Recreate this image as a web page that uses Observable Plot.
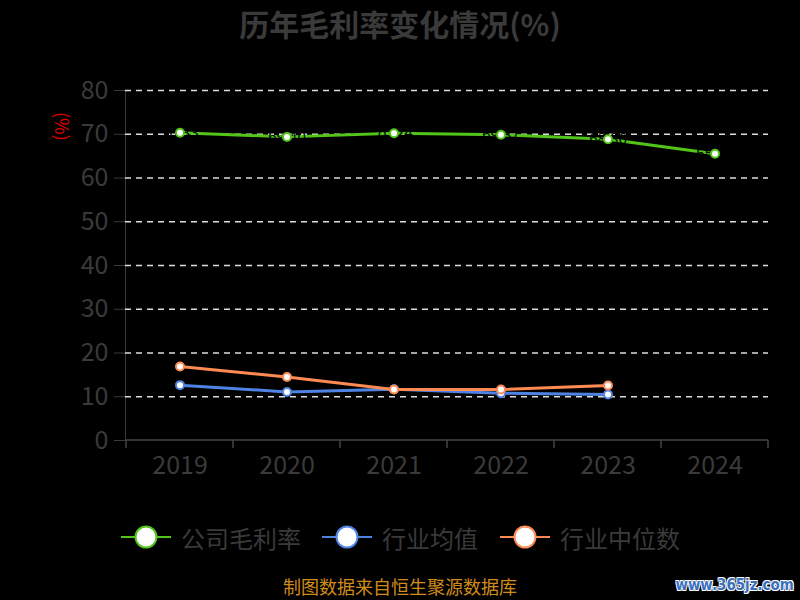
<!DOCTYPE html>
<html><head><meta charset="utf-8">
<script src="https://cdn.jsdelivr.net/npm/d3@7"></script>
<script src="https://cdn.jsdelivr.net/npm/@observablehq/plot@0.6"></script>
<style>
body{margin:0;background:#000;}
#wrap{position:relative;width:800px;height:600px;background:#000;overflow:hidden;font-family:"Noto Sans CJK SC","Noto Sans",sans-serif;}
#chart{position:absolute;left:0;top:0;}
#title{position:absolute;top:0;left:0;width:800px;text-align:center;font-size:30px;font-weight:bold;color:#3a3a3a;line-height:46px;}
#ylab{position:absolute;left:49px;top:112px;width:28px;height:28px;transform:rotate(90deg);transform-origin:center;color:#e00000;font-size:18px;line-height:28px;text-align:center;}
#legend{position:absolute;top:519px;left:0;width:800px;height:36px;}
.item{position:absolute;top:0;display:flex;align-items:center;height:36px;font-size:24px;color:#3a3a3a;}
.item svg{margin-right:10px;}
#source{position:absolute;top:574px;left:0;width:800px;text-align:center;font-size:18px;color:#d08c1a;line-height:24px;}
#wm{position:absolute;right:6px;top:572px;font-family:"DejaVu Sans",sans-serif;font-weight:bold;font-size:16px;color:#3b6fc0;text-shadow:1px 1px 0 #fff,-1px -1px 0 #fff,1px -1px 0 #fff,-1px 1px 0 #fff;line-height:26px;transform:scaleX(0.84);transform-origin:right center;}
</style></head>
<body><div id="wrap">
<div id="chart"></div>
<div id="title">历年毛利率变化情况(%)</div>
<div id="ylab">(%)</div>
<div id="legend"></div>
<div id="source">制图数据来自恒生聚源数据库</div>
<div id="wm">www.365jz.com</div>
</div>
<script>
const years = ["2019","2020","2021","2022","2023","2024"];
const company = [70.33, 69.40, 70.24, 69.87, 68.86, 65.53];
const industryAvg = [12.65, 11.10, 11.70, 10.80, 10.50, null];
const industryMedian = [16.90, 14.50, 11.65, 11.65, 12.57, null];
const yTicks = [0, 10, 20, 30, 40, 50, 60, 70, 80];
const seriesNames = ["公司毛利率", "行业均值", "行业中位数"];
const seriesColors = ["#52c41a", "#4f83e3", "#ff8a52"];

const rows = (vals) => years.map((yr, i) => ({year: yr, v: vals[i]})).filter(d => d.v != null);
const compRows = rows(company);
const avgRows = rows(industryAvg);
const medRows = rows(industryMedian);

function bandTicks(...args) {
  const scales = args.find(a => a && typeof a.x === "function" && typeof a.y === "function");
  const x = scales.x, y = scales.y;
  const bw = x.bandwidth ? x.bandwidth() : 0;
  const y0 = y(0);
  const g = d3.create("svg:g").attr("stroke", "#444").attr("stroke-width", 1.5);
  const xs = years.map(d => x(d)).concat([x(years[years.length - 1]) + bw]);
  for (const px of xs) g.append("line").attr("x1", px).attr("x2", px).attr("y1", y0).attr("y2", y0 + 8);
  g.append("line").attr("x1", xs[0]).attr("x2", xs[xs.length - 1]).attr("y1", y0).attr("y2", y0);
  return g.node();
}

const chart = Plot.plot({
  width: 800, height: 600,
  marginTop: 90, marginBottom: 160, marginLeft: 125, marginRight: 32,
  style: {background: "#000", color: "#3a3a3a", fontSize: "25px", fontFamily: "'Noto Sans CJK SC','Noto Sans',sans-serif"},
  x: {type: "band", domain: years, padding: 0, tickSize: 0, tickPadding: 16, label: null},
  y: {domain: [0, 80], ticks: yTicks, tickSize: 11, tickPadding: 6, line: true, label: null},
  marks: [
    Plot.ruleY(yTicks.filter(d => d > 0), {stroke: "#dddddd", strokeWidth: 1.5, strokeDasharray: "6,5"}),
    bandTicks,
    Plot.line(compRows, {x: "year", y: "v", stroke: seriesColors[0], strokeWidth: 3}),
    Plot.line(avgRows, {x: "year", y: "v", stroke: seriesColors[1], strokeWidth: 3}),
    Plot.line(medRows, {x: "year", y: "v", stroke: seriesColors[2], strokeWidth: 3}),
    Plot.text(compRows, {x: "year", y: "v", text: d => d.v.toFixed(2), fill: "#000", fontSize: 15}),
    Plot.dot(compRows, {x: "year", y: "v", r: 4, fill: "#fff", stroke: seriesColors[0], strokeWidth: 2}),
    Plot.dot(avgRows, {x: "year", y: "v", r: 4, fill: "#fff", stroke: seriesColors[1], strokeWidth: 2}),
    Plot.dot(medRows, {x: "year", y: "v", r: 4, fill: "#fff", stroke: seriesColors[2], strokeWidth: 2})
  ]
});
document.getElementById("chart").appendChild(chart);

const legendLefts = [121, 322, 500];
const legend = d3.select("#legend");
seriesNames.forEach((name, i) => {
  const item = legend.append("div").attr("class", "item").style("left", legendLefts[i] + "px");
  const svg = item.append("svg").attr("width", 50).attr("height", 26);
  svg.append("line").attr("x1", 0).attr("x2", 50).attr("y1", 13).attr("y2", 13).attr("stroke", seriesColors[i]).attr("stroke-width", 2);
  svg.append("circle").attr("cx", 25).attr("cy", 13).attr("r", 10.5).attr("fill", "#fff").attr("stroke", seriesColors[i]).attr("stroke-width", 2);
  item.append("span").text(name);
});
</script>
</body></html>
